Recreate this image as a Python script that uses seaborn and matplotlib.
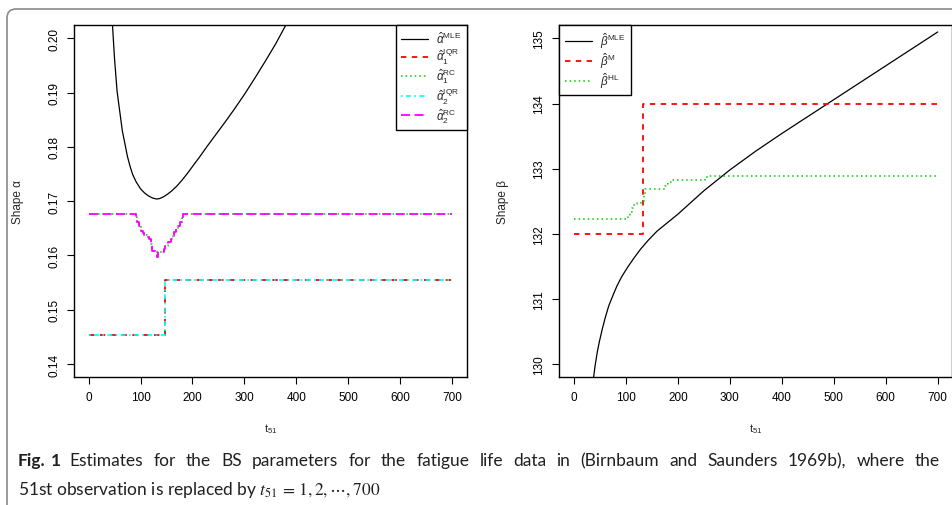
import matplotlib
matplotlib.use("Agg")
import matplotlib.pyplot as plt
from matplotlib.patches import FancyBboxPatch
import seaborn as sns

# ---- left panel: shape alpha estimates against t51 ----
alpha_mle_t = [40, 45, 50, 55, 60, 65, 70, 75, 80, 85, 92, 100, 108, 115, 123, 131, 137,
               144, 152, 160, 170, 180, 190, 200, 214, 228, 245, 262, 280, 300, 320,
               340, 360, 378, 395]
alpha_mle = [0.2152, 0.2042, 0.1963, 0.1902, 0.1866, 0.1830, 0.1806, 0.1782, 0.1764,
             0.1749, 0.1735, 0.1723, 0.1715, 0.1710, 0.1706, 0.1704, 0.1705, 0.1708,
             0.1713, 0.1719, 0.1728, 0.1739, 0.1751, 0.1764, 0.1782, 0.1801, 0.1823,
             0.1845, 0.1869, 0.1897, 0.1927, 0.1958, 0.1990, 0.2022, 0.2053]

alpha_iqr_t = [0, 147, 700]
alpha_iqr = [0.1454, 0.1554, 0.1554]

alpha_rc_t = [0, 91, 94, 97, 100, 104, 107, 112, 116, 120, 123, 131, 132, 134, 145, 148,
              152, 158, 162, 165, 169, 172, 176, 179, 182, 700]
alpha_rc = [0.1677, 0.1670, 0.1662, 0.1655, 0.1646, 0.1641, 0.1637, 0.1634, 0.1631,
            0.1622, 0.1608, 0.1606, 0.1597, 0.1606, 0.1612, 0.1618, 0.1624, 0.1631,
            0.1636, 0.1643, 0.1649, 0.1655, 0.1662, 0.1669, 0.1677, 0.1677]

# ---- right panel: beta estimates against t51 ----
beta_mle_t = [36, 38.4, 41, 45, 49, 54.5, 60, 67, 75, 83, 92, 103, 115, 128, 143, 160,
              180, 200, 225, 250, 275, 300, 350, 400, 450, 500, 550, 600, 650, 700]
beta_mle = [129.69, 129.82, 129.98, 130.18, 130.34, 130.53, 130.70, 130.89, 131.05,
            131.20, 131.34, 131.48, 131.62, 131.76, 131.90, 132.04, 132.17, 132.30,
            132.48, 132.66, 132.82, 132.98, 133.27, 133.54, 133.80, 134.06, 134.32,
            134.58, 134.84, 135.10]

beta_m_t = [0, 133, 700]
beta_m = [132.0, 134.0, 134.0]

beta_hl_t = [0, 105, 108, 111, 114, 118, 122, 130, 134, 136, 176, 179, 182, 186, 253, 256, 700]
beta_hl = [132.22, 132.27, 132.33, 132.39, 132.44, 132.46, 132.48, 132.50, 132.60, 132.69,
           132.73, 132.77, 132.80, 132.82, 132.86, 132.89, 132.89]

x_ticks = [0, 100, 200, 300, 400, 500, 600, 700]
alpha_ticks = [0.14, 0.15, 0.16, 0.17, 0.18, 0.19, 0.20]
beta_ticks = [130, 131, 132, 133, 134, 135]

caption_1 = ("Estimates for the BS parameters for the fatigue life data in "
             "(Birnbaum and Saunders 1969b), where the")
caption_2 = r"51st observation is replaced by $t_{51}\,=\,1, 2, \cdots, 700$"

sns.set_style("white")
plt.rcParams["font.family"] = ["Liberation Sans", "DejaVu Sans"]
plt.rcParams["mathtext.fontset"] = "custom"
plt.rcParams["mathtext.rm"] = "Liberation Sans"
plt.rcParams["mathtext.it"] = "Liberation Sans:italic"
plt.rcParams["mathtext.bf"] = "Liberation Sans:bold"

# R-like line types (in units of line width)
DASHED = (0, (3, 3))
DOTTED = (0, (1, 2))
DOTDASH = (0, (1, 2, 3, 2))
LONGDASH = (0, (5, 2.5))


def r_axes(ax, yticks, ylim, yfmt, ylabel):
    '''Style an axes like base R graphics'''
    ax.set_xlim(-28, 728)
    pad = (ylim[1] - ylim[0]) * 0.04
    ax.set_ylim(ylim[0] - pad, ylim[1] + pad)
    ax.set_xticks(x_ticks)
    ax.set_xticklabels([str(v) for v in x_ticks])
    ax.set_yticks(yticks)
    ax.set_yticklabels([yfmt % v for v in yticks], rotation=90, va="center")
    ax.tick_params(direction="out", length=5, width=0.8, colors="black", labelsize=8.5,
                   pad=5, left=True, bottom=True)
    for sp in ax.spines.values():
        sp.set_color("black")
        sp.set_linewidth(1.0)
    ax.set_xlabel(r"t$_{\mathregular{51}}$", fontsize=8)
    ax.set_ylabel(ylabel, fontsize=8.5)
    ax.xaxis.set_label_coords(0.5, -0.125)
    ax.yaxis.set_label_coords(-0.127, 0.5)


fig = plt.figure(figsize=(9.52, 5.06), dpi=100)
ax1 = fig.add_axes([0.0777, 0.2530, 0.4128, 0.6947])
ax2 = fig.add_axes([0.5875, 0.2530, 0.4128, 0.6947])

# left panel
sns.lineplot(x=alpha_mle_t, y=alpha_mle, ax=ax1, color="black", lw=0.9,
             label=r"$\hat{\alpha}^{\mathrm{MLE}}$")
sns.lineplot(x=alpha_iqr_t, y=alpha_iqr, ax=ax1, color="red", lw=1.3, ls=DASHED,
             drawstyle="steps-post", label=r"$\hat{\alpha}_1^{\mathrm{IQR}}$")
sns.lineplot(x=alpha_rc_t, y=alpha_rc, ax=ax1, color="#00CD00", lw=1.1, ls=DOTTED,
             drawstyle="steps-post", label=r"$\hat{\alpha}_1^{\mathrm{RC}}$")
sns.lineplot(x=alpha_iqr_t, y=alpha_iqr, ax=ax1, color="cyan", lw=1.2, ls=DOTDASH,
             drawstyle="steps-post", label=r"$\hat{\alpha}_2^{\mathrm{IQR}}$")
sns.lineplot(x=alpha_rc_t, y=alpha_rc, ax=ax1, color="magenta", lw=1.3, ls=LONGDASH,
             drawstyle="steps-post", label=r"$\hat{\alpha}_2^{\mathrm{RC}}$")
r_axes(ax1, alpha_ticks, (0.14, 0.20), "%.2f", "Shape \u03b1")

# right panel
sns.lineplot(x=beta_mle_t, y=beta_mle, ax=ax2, color="black", lw=0.9,
             label=r"$\hat{\beta}^{\mathrm{MLE}}$")
sns.lineplot(x=beta_m_t, y=beta_m, ax=ax2, color="red", lw=1.3, ls=DASHED,
             drawstyle="steps-post", label=r"$\hat{\beta}^{\mathrm{M}}$")
sns.lineplot(x=beta_hl_t, y=beta_hl, ax=ax2, color="#00CD00", lw=1.1, ls=DOTTED,
             drawstyle="steps-post", label=r"$\hat{\beta}^{\mathrm{HL}}$")
r_axes(ax2, beta_ticks, (130, 135), "%d", "Shape \u03b2")

for ax, loc in [(ax1, "upper right"), (ax2, "upper left")]:
    leg = ax.legend(loc=loc, borderaxespad=0, fancybox=False, framealpha=1,
                    edgecolor="black", fontsize=8.5, handlelength=2.3,
                    labelspacing=0.02, borderpad=0.45, handletextpad=0.7)
    leg.get_frame().set_linewidth(1.0)

# rounded frame around the figure
frame = FancyBboxPatch((7, -30), 1000, 526, boxstyle="round,pad=0,rounding_size=9",
                       transform=None, facecolor="none", edgecolor="#8a8a8a", lw=1.2)
fig.add_artist(frame)

# caption, first line justified between x=18 and x=940 px
renderer = fig.canvas.get_renderer()
cap_font = ["Lato", "DejaVu Sans"]
cap_kw = dict(fontsize=12.5, family=cap_font, color="#231f20")
words = [("Fig.", "bold"), ("1", "bold")] + [(w, "normal") for w in caption_1.split()]
pieces = [fig.text(0, 40 / 506, w, fontweight=wt, **cap_kw) for w, wt in words]
widths = [p.get_window_extent(renderer).width for p in pieces]
fill = (922 - sum(widths) - 5.0 - 9.0) / (len(words) - 3)
gaps = [0, 5.0, 9.0] + [fill] * (len(words) - 3)
x = 18.0
for p, w, g in zip(pieces, widths, gaps):
    x += g
    p.set_x(x / 952)
    x += w
fig.text(18 / 952, 11 / 506, caption_2, math_fontfamily="stix", **cap_kw)

fig.savefig("out.png", dpi=100)
